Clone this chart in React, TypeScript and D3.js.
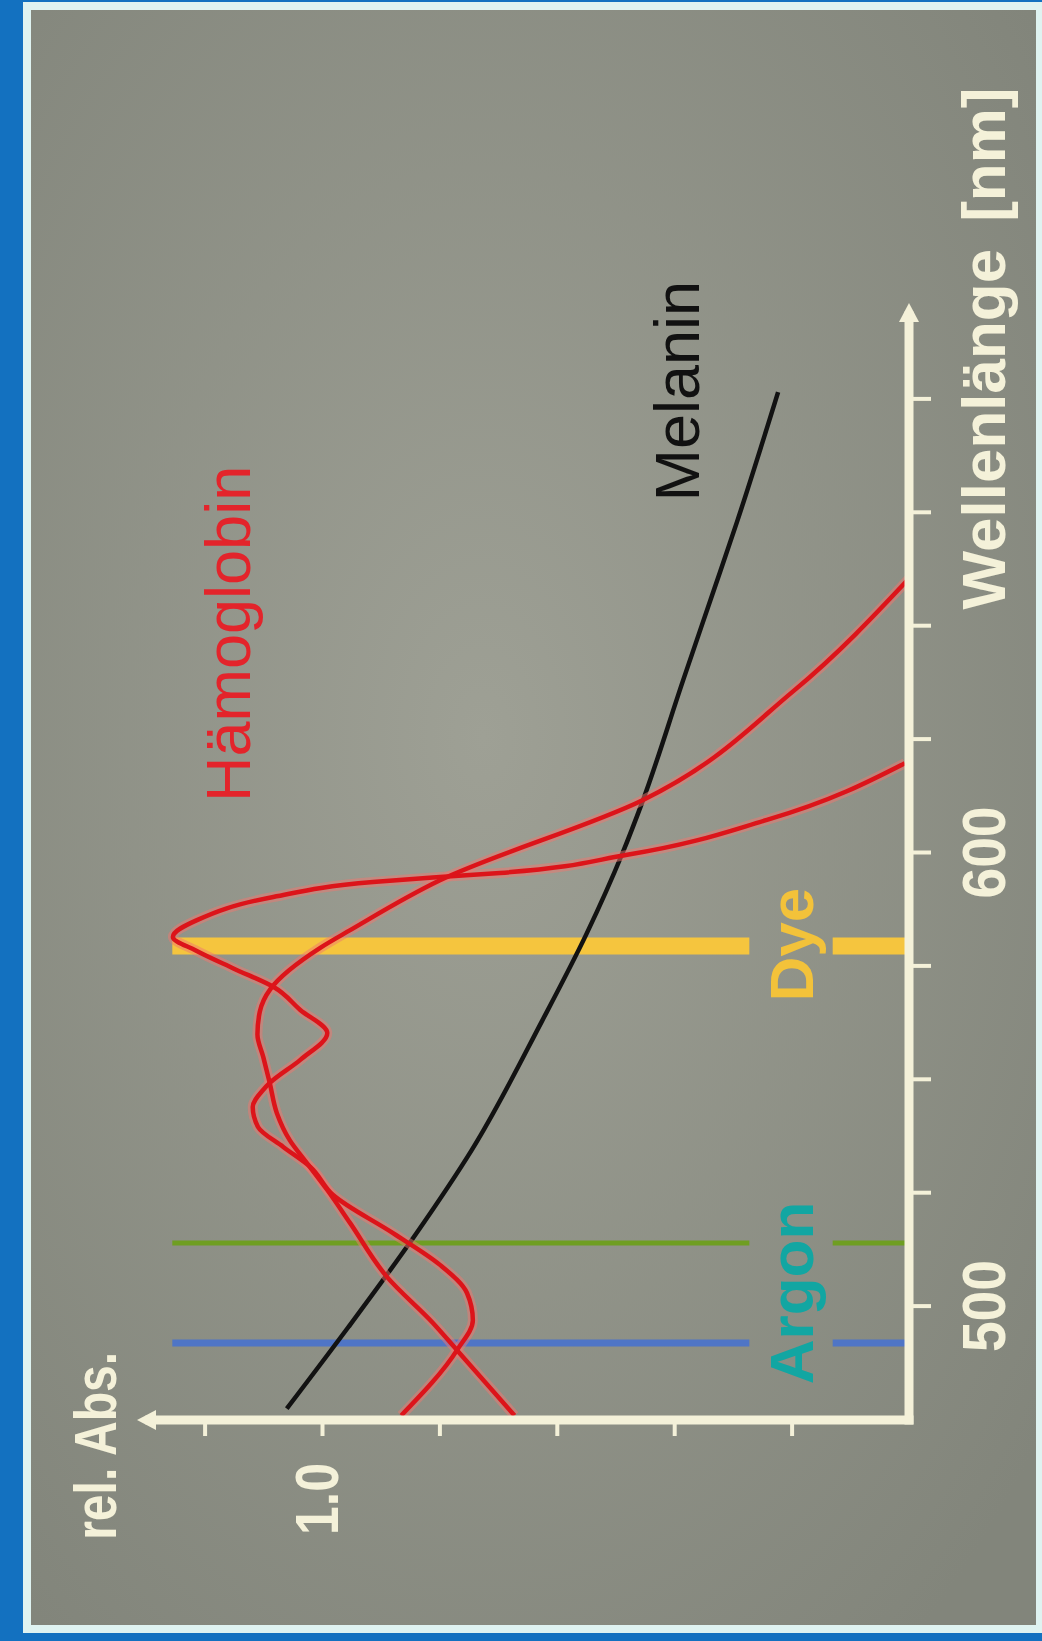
import { useEffect, useRef } from "react";
import { select, scaleLinear, line as d3line, curveMonotoneX, axisBottom, axisLeft } from "d3";

const W = 1042;
const H = 1641;
const FONT = "'Liberation Sans', Arial, Helvetica, sans-serif";
const AXIS = "#f4f1d9";

// --- data (wavelength in nm, relative absorbance) ---
const wlTicks = [500, 525, 550, 575, 600, 625, 650, 675, 700];
const wlLabels = [500, 600];
const absTicks = [0.2, 0.4, 0.6, 0.8, 1.0, 1.2];
const absLabels = [1.0];
const wlMin = 475;
const wlMax = 718.4;
const absMax = 1.293;

const hbO2Wl = [476, 490.4, 497, 503, 509.2, 516.2, 524.6, 530.8, 535.2, 539.6, 544, 547.8, 549.3, 554.4, 560.3, 565.4, 570.5, 574.5, 578.5, 581.5, 585.2, 590.3, 593.6, 594.7, 595.6, 599.6, 607.3, 619.8];
const hbO2Abs = [0.865, 0.77, 0.743, 0.753, 0.799, 0.879, 0.981, 1.02, 1.066, 1.109, 1.118, 1.1, 1.089, 1.037, 0.991, 1.037, 1.083, 1.15, 1.215, 1.254, 1.213, 1.083, 0.913, 0.799, 0.697, 0.48, 0.242, 0.007];

const hbWl = [476, 490.4, 496.4, 506.5, 518.4, 525.7, 531.7, 536.7, 542.7, 549.3, 555, 560, 565, 570, 579.1, 583, 594, 611.7, 635.8, 660.5];
const hbAbs = [0.672, 0.77, 0.811, 0.889, 0.952, 0.991, 1.026, 1.055, 1.077, 1.089, 1.1, 1.11, 1.106, 1.088, 1.003, 0.952, 0.799, 0.453, 0.196, 0];

const melWl = [477.5, 495.5, 516, 534.5, 563, 582, 600, 611, 638, 657, 673, 701.6];
const melAbs = [1.06, 0.955, 0.84, 0.745, 0.625, 0.55, 0.488, 0.455, 0.385, 0.335, 0.293, 0.223];

const laserWl = [492, 514, 579.5];
const laserTopAbs = [1.255, 1.255, 1.255];
const laserGap = [0.13, 0.272];
const laserLabels = ["Argon", "Dye"];
const laserLabelWl = [503, 579.8];

// styles
const laserColors = ["#4f75c6", "#6f9e22", "#f5c53e"];
const laserWidths = [7, 5, 17];
const laserLabelColors = ["#12a6a2", "#f3c23a"];

type Pt = [number, number];
const zip = (a: number[], b: number[]): Pt[] => a.map((v, i) => [v, b[i]]);

export default function App() {
  const svgRef = useRef<SVGSVGElement>(null);

  useEffect(() => {
    const svg = select(svgRef.current);
    svg.selectAll("*").remove();

    const defs = svg.append("defs");
    const bg = defs
      .append("radialGradient")
      .attr("id", "bg")
      .attr("cx", "45%")
      .attr("cy", "45%")
      .attr("r", "70%");
    bg.append("stop").attr("offset", "0%").attr("stop-color", "#9ea095");
    bg.append("stop").attr("offset", "100%").attr("stop-color", "#82857b");

    // slide frame
    svg.append("rect").attr("width", W).attr("height", H).attr("fill", "#1371c0");
    svg
      .append("rect")
      .attr("x", 27)
      .attr("y", 6)
      .attr("width", 1013)
      .attr("height", 1623)
      .attr("fill", "url(#bg)")
      .attr("stroke", "#dff3f1")
      .attr("stroke-width", 8);

    // the whole chart is rotated by -90 degrees
    const g = svg.append("g").attr("transform", `translate(0,${H}) rotate(-90)`);

    const x = scaleLinear().domain([475, 600]).range([221, 788]);
    const y = scaleLinear().domain([0, 1]).range([909, 322]);

    // --- laser lines ---
    laserWl.forEach((wl, i) => {
      const segs: Pt[] = [
        [laserTopAbs[i], laserGap[1]],
        [laserGap[0], 0],
      ];
      segs.forEach(([a, b]) => {
        g.append("line")
          .attr("x1", x(wl))
          .attr("x2", x(wl))
          .attr("y1", y(a))
          .attr("y2", y(b))
          .attr("stroke", laserColors[i])
          .attr("stroke-width", laserWidths[i]);
      });
    });

    // --- curves ---
    const lineGen = d3line<Pt>()
      .x((d) => x(d[0]))
      .y((d) => y(d[1]))
      .curve(curveMonotoneX);

    g.append("path")
      .datum(zip(melWl, melAbs))
      .attr("fill", "none")
      .attr("stroke", "#121212")
      .attr("stroke-width", 4.5)
      .attr("d", lineGen);

    const hbCurves = [zip(hbO2Wl, hbO2Abs), zip(hbWl, hbAbs)];
    hbCurves.forEach((data) => {
      g.append("path")
        .datum(data)
        .attr("fill", "none")
        .attr("stroke", "#f0776f")
        .attr("stroke-opacity", 0.5)
        .attr("stroke-width", 10)
        .attr("d", lineGen);
    });
    hbCurves.forEach((data) => {
      g.append("path")
        .datum(data)
        .attr("fill", "none")
        .attr("stroke", "#dc141a")
        .attr("stroke-width", 4.5)
        .attr("d", lineGen);
    });

    // --- axes ---
    const xAxis = g
      .append("g")
      .attr("transform", `translate(0,${y(0)})`)
      .call(
        axisBottom(x)
          .tickValues(wlTicks)
          .tickSize(22)
          .tickPadding(30)
          .tickFormat((d) => (wlLabels.includes(+d) ? String(d) : "")),
      );
    xAxis.select(".domain").remove();
    xAxis.selectAll(".tick line").attr("stroke", AXIS).attr("stroke-width", 4);
    xAxis
      .selectAll<SVGTextElement, number>(".tick text")
      .attr("fill", AXIS)
      .attr("font-size", 62)
      .attr("font-weight", "bold")
      .attr("font-family", FONT)
      .filter((d) => wlLabels.includes(d))
      .attr("textLength", 92)
      .attr("lengthAdjust", "spacingAndGlyphs");

    const yAxis = g
      .append("g")
      .attr("transform", `translate(${x(wlMin)},0)`)
      .call(
        axisLeft(y)
          .tickValues(absTicks)
          .tickSize(16)
          .tickPadding(27)
          .tickFormat((d) => (absLabels.includes(+d) ? (+d).toFixed(1) : "")),
      );
    yAxis.select(".domain").remove();
    yAxis.selectAll(".tick line").attr("stroke", AXIS).attr("stroke-width", 4);
    yAxis
      .selectAll<SVGTextElement, number>(".tick text")
      .attr("fill", AXIS)
      .attr("font-size", 62)
      .attr("font-weight", "bold")
      .attr("font-family", FONT)
      .attr("dy", "0.25em")
      .filter((d) => absLabels.includes(d))
      .attr("textLength", 72)
      .attr("lengthAdjust", "spacingAndGlyphs");

    g.append("line")
      .attr("x1", x(wlMin))
      .attr("x2", x(wlMax))
      .attr("y1", y(0))
      .attr("y2", y(0))
      .attr("stroke", AXIS)
      .attr("stroke-width", 9)
      .attr("stroke-linecap", "square");
    g.append("line")
      .attr("x1", x(wlMin))
      .attr("x2", x(wlMin))
      .attr("y1", y(0))
      .attr("y2", y(absMax))
      .attr("stroke", AXIS)
      .attr("stroke-width", 9)
      .attr("stroke-linecap", "square");

    // arrow heads
    const ax = x(wlMax);
    const ay = y(0);
    g.append("path")
      .attr("d", `M${ax + 13},${ay} L${ax - 6},${ay - 10} L${ax - 6},${ay + 10} Z`)
      .attr("fill", AXIS);
    const bx = x(wlMin);
    const by = y(absMax);
    g.append("path")
      .attr("d", `M${bx},${by - 13} L${bx - 10},${by + 6} L${bx + 10},${by + 6} Z`)
      .attr("fill", AXIS);

    // --- labels ---
    g.append("text")
      .attr("x", x(653.7))
      .attr("y", y(0) + 96)
      .attr("font-family", FONT)
      .attr("font-size", 62)
      .attr("font-weight", "bold")
      .attr("fill", AXIS)
      .text("Wellenlänge")
      .append("tspan")
      .attr("dx", 27)
      .text("[nm]");

    g.append("text")
      .attr("x", x(469.3))
      .attr("y", y(1.351))
      .attr("text-anchor", "middle")
      .attr("font-family", FONT)
      .attr("font-size", 60)
      .attr("font-weight", "bold")
      .attr("fill", AXIS)
      .attr("textLength", 188)
      .attr("lengthAdjust", "spacingAndGlyphs")
      .text("rel. Abs.");

    g.append("text")
      .attr("x", x(648.3))
      .attr("y", y(1.123))
      .attr("text-anchor", "middle")
      .attr("font-family", FONT)
      .attr("font-size", 63)
      .attr("fill", "#e3242b")
      .text("Hämoglobin");

    g.append("text")
      .attr("x", x(701.8))
      .attr("y", y(0.358))
      .attr("text-anchor", "middle")
      .attr("font-family", FONT)
      .attr("font-size", 63)
      .attr("fill", "#111111")
      .text("Melanin");

    laserLabels.forEach((name, i) => {
      g.append("text")
        .attr("x", x(laserLabelWl[i]))
        .attr("y", y(0.163))
        .attr("text-anchor", "middle")
        .attr("font-family", FONT)
        .attr("font-size", 62)
        .attr("font-weight", "bold")
        .attr("fill", laserLabelColors[i])
        .text(name);
    });
  }, []);

  return (
    <svg
      ref={svgRef}
      width={W}
      height={H}
      style={{ position: "absolute", left: 0, top: 0, display: "block" }}
    />
  );
}
